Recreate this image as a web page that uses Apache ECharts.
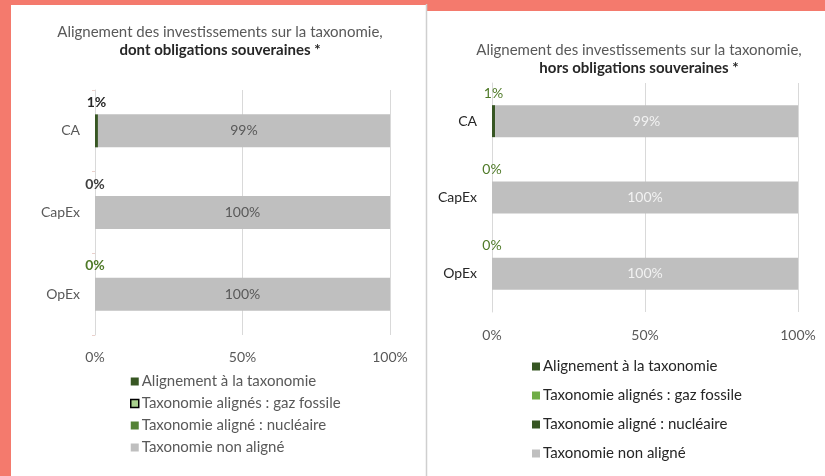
<!DOCTYPE html>
<html>
<head>
<meta charset="utf-8">
<script src="https://cdn.jsdelivr.net/npm/echarts@6/dist/echarts.min.js"></script>
<style>
  html, body { margin: 0; padding: 0; }
  #chart { width: 825px; height: 476px; }
</style>
</head>
<body>
<div id="chart"></div>
<script>
// categories and series names
const categories = ['CA', 'CapEx', 'OpEx'];
const seriesNames = [
    'Alignement à la taxonomie',
    'Taxonomie alignés : gaz fossile',
    'Taxonomie aligné : nucléaire',
    'Taxonomie non aligné'
];

// left chart: dont obligations souveraines
const leftAligned = [1, 0, 0];
const leftGas = [0, 0, 0];
const leftNuclear = [0, 0, 0];
const leftNotAligned = [99, 100, 100];

// right chart: hors obligations souveraines
const rightAligned = [1, 0, 0];
const rightGas = [0, 0, 0];
const rightNuclear = [0, 0, 0];
const rightNotAligned = [99, 100, 100];

const FONT = 'Lato';
const leftSmallLabelColors = ['#262626', '#404040', '#4f7a28'];

const chart = echarts.init(document.getElementById('chart'));

function xAxis(gridIndex, margin) {
    return {
        gridIndex: gridIndex,
        type: 'value',
        min: 0,
        max: 100,
        interval: 50,
        axisLine: { show: false },
        axisTick: { show: false },
        splitLine: { lineStyle: { color: '#d9d9d9', width: 1 } },
        axisLabel: {
            formatter: '{value}%',
            color: '#595959',
            fontFamily: FONT,
            fontSize: 14,
            margin: margin
        }
    };
}

function yAxis(gridIndex, labelColor, ticks) {
    return {
        gridIndex: gridIndex,
        type: 'category',
        inverse: true,
        data: categories,
        axisLine: { show: true, lineStyle: { color: '#d9d9d9' } },
        axisTick: { show: ticks, length: 3, lineStyle: { color: '#ead0cb' } },
        axisLabel: { color: labelColor, fontFamily: FONT, fontSize: 14, margin: 15 }
    };
}

function smallLabel(color, bold) {
    return {
        show: true,
        position: 'top',
        distance: 5,
        formatter: '{c}%',
        color: color,
        fontFamily: FONT,
        fontSize: 14,
        fontWeight: bold ? 'bold' : 'normal'
    };
}

const leftAlignedData = leftAligned.map((v, i) => ({
    value: v,
    label: { color: leftSmallLabelColors[i] }
}));

const series = [
    // left
    {
        name: seriesNames[0], type: 'bar', stack: 'left', xAxisIndex: 0, yAxisIndex: 0,
        barWidth: 33, data: leftAlignedData, itemStyle: { color: '#375623' },
        label: smallLabel('#262626', true)
    },
    {
        name: seriesNames[1], type: 'bar', stack: 'left', xAxisIndex: 0, yAxisIndex: 0,
        barWidth: 33, data: leftGas, itemStyle: { color: '#a9d18e', borderColor: '#000', borderWidth: 0 }
    },
    {
        name: seriesNames[2], type: 'bar', stack: 'left', xAxisIndex: 0, yAxisIndex: 0,
        barWidth: 33, data: leftNuclear, itemStyle: { color: '#548235' }
    },
    {
        name: seriesNames[3], type: 'bar', stack: 'left', xAxisIndex: 0, yAxisIndex: 0,
        barWidth: 33, data: leftNotAligned, itemStyle: { color: '#bfbfbf' },
        label: {
            show: true, position: 'inside', formatter: '{c}%',
            color: '#595959', fontFamily: FONT, fontSize: 14
        }
    },
    // right
    {
        name: seriesNames[0], type: 'bar', stack: 'right', xAxisIndex: 1, yAxisIndex: 1,
        barWidth: 32, data: rightAligned, itemStyle: { color: '#375623' },
        label: smallLabel('#4f7a28', false)
    },
    {
        name: seriesNames[1], type: 'bar', stack: 'right', xAxisIndex: 1, yAxisIndex: 1,
        barWidth: 32, data: rightGas, itemStyle: { color: '#70ad47' }
    },
    {
        name: seriesNames[2], type: 'bar', stack: 'right', xAxisIndex: 1, yAxisIndex: 1,
        barWidth: 32, data: rightNuclear, itemStyle: { color: '#375623' }
    },
    {
        name: seriesNames[3], type: 'bar', stack: 'right', xAxisIndex: 1, yAxisIndex: 1,
        barWidth: 32, data: rightNotAligned, itemStyle: { color: '#bfbfbf' },
        label: {
            show: true, position: 'inside', formatter: '{c}%',
            color: '#f2f2f2', fontFamily: FONT, fontSize: 14
        }
    }
];

const titleRich = {
    a: { color: '#595959', fontFamily: FONT, fontSize: 15, fontWeight: 'normal', lineHeight: 18 },
    b: { color: '#262626', fontFamily: FONT, fontSize: 15, fontWeight: 'bold', lineHeight: 18 }
};

const option = {
    backgroundColor: '#f47a6d',
    animation: false,
    graphic: [
        { type: 'rect', shape: { x: 11, y: 5, width: 416, height: 471 }, style: { fill: '#ffffff' }, z: -10 },
        { type: 'rect', shape: { x: 427, y: 11, width: 398, height: 465 }, style: { fill: '#ffffff' }, z: -10 },
        { type: 'line', shape: { x1: 426.5, y1: 4, x2: 426.5, y2: 476 }, style: { stroke: '#cfcfcf', lineWidth: 1.5 }, z: -9 }
    ],
    title: [
        {
            text: '{a|Alignement des investissements sur la taxonomie,}\n{b|dont obligations souveraines *}',
            left: 220, top: 23, textAlign: 'center', padding: 0,
            textStyle: { fontWeight: 'normal', rich: titleRich }
        },
        {
            text: '{a|Alignement des investissements sur la taxonomie,}\n{b|hors obligations souveraines *}',
            left: 639, top: 41, textAlign: 'center', padding: 0,
            textStyle: { fontWeight: 'normal', rich: titleRich }
        }
    ],
    legend: [
        {
            orient: 'vertical', left: 130, top: 374, padding: 0,
            itemWidth: 8, itemHeight: 8, itemGap: 7, icon: 'rect', selectedMode: false,
            textStyle: { color: '#595959', fontFamily: FONT, fontSize: 15, padding: [0, 0, 0, -2] },
            data: [
                { name: seriesNames[0], itemStyle: { color: '#375623' } },
                { name: seriesNames[1], itemStyle: { color: '#a9d18e', borderColor: '#000', borderWidth: 1.5 } },
                { name: seriesNames[2], itemStyle: { color: '#548235' } },
                { name: seriesNames[3], itemStyle: { color: '#bfbfbf' } }
            ]
        },
        {
            orient: 'vertical', left: 532, top: 359, padding: 0,
            itemWidth: 8, itemHeight: 8, itemGap: 14, icon: 'rect', selectedMode: false,
            textStyle: { color: '#262626', fontFamily: FONT, fontSize: 15, padding: [0, 0, 0, -2] },
            data: [
                { name: seriesNames[0], itemStyle: { color: '#375623' } },
                { name: seriesNames[1], itemStyle: { color: '#70ad47' } },
                { name: seriesNames[2], itemStyle: { color: '#375623' } },
                { name: seriesNames[3], itemStyle: { color: '#bfbfbf' } }
            ]
        }
    ],
    grid: [
        { left: 95, top: 90, width: 295, height: 245 },
        { left: 492, top: 83, width: 306, height: 229 }
    ],
    xAxis: [xAxis(0, 15), xAxis(1, 16)],
    yAxis: [yAxis(0, '#595959', true), yAxis(1, '#262626', false)],
    series: series
};

chart.setOption(option);
</script>
</body>
</html>
